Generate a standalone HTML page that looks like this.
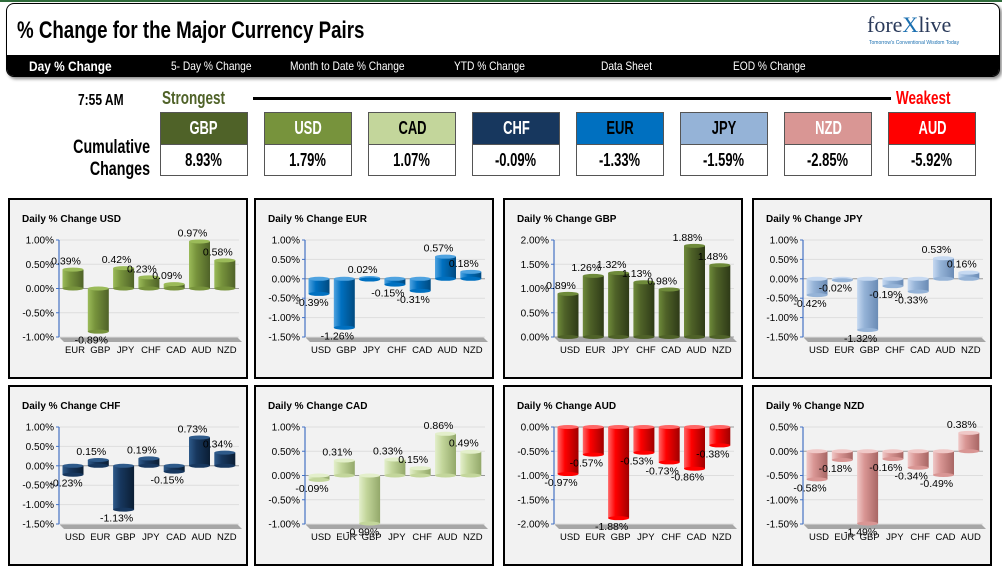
<!DOCTYPE html>
<html><head><meta charset="utf-8"><style>
body{margin:0;width:1002px;height:576px;background:#fff;position:relative;overflow:hidden;font-family:"Liberation Sans",sans-serif}
.abs{position:absolute}
#hdr{left:6px;top:3px;width:992px;height:72px;border:1px solid #000;border-radius:8px;overflow:hidden;background:#fff;box-shadow:2px 2px 3px #888}
#title{left:10px;top:13px;font-size:24px;font-weight:bold;transform:scaleX(.78);transform-origin:left;white-space:nowrap}
#nav{left:0;top:51px;width:992px;height:22px;background:#000;color:#fff;font-size:12px}
#nav span{position:absolute;top:4px;transform:scaleX(.85);transform-origin:left;white-space:nowrap}
.box{position:absolute;width:86px;border:1px solid #555}
.box .h{height:31px;line-height:31px;text-align:center;font-weight:bold;font-size:18px;border-bottom:1px solid #555}
.box .v{height:30px;line-height:30px;text-align:center;font-weight:bold;font-size:18px;background:#fff}
.box span{display:inline-block;transform:scaleX(.72)}
.panel{position:absolute;width:236px;height:177px;border:2px solid #000;background:#f2f2f2}
.cond{transform:scaleX(.75);transform-origin:left;white-space:nowrap}
</style></head><body>
<div class="abs" style="left:0;top:0;width:1002px;height:2px;background:#2e6b3a"></div>
<div id="hdr" class="abs">
  <div id="title" class="abs">% Change for the Major Currency Pairs</div>
  <div class="abs" style="left:860px;top:8px;font-family:'Liberation Serif',serif;font-size:22px;color:#2a3a5a">fore<span style="color:#1a6fb0">X</span>live</div>
  <div class="abs" style="left:862px;top:36px;font-size:5px;color:#1a6fb0">Tomorrow's Conventional Wisdom Today</div>
  <div id="nav" class="abs">
    <span style="left:22px;font-size:14px;font-weight:bold;top:3px">Day % Change</span>
    <span style="left:164px">5- Day % Change</span>
    <span style="left:283px">Month to Date % Change</span>
    <span style="left:447px">YTD % Change</span>
    <span style="left:594px">Data Sheet</span>
    <span style="left:726px">EOD % Change</span>
  </div>
</div>
<div class="abs cond" style="left:78px;top:92px;font-size:16px;font-weight:bold">7:55 AM</div>
<div class="abs cond" style="left:162px;top:88px;font-size:18px;font-weight:bold;color:#4F6228">Strongest</div>
<div class="abs" style="left:253px;top:97px;width:638px;height:3px;background:#000"></div>
<div class="abs cond" style="left:896px;top:88px;font-size:18px;font-weight:bold;color:#f00">Weakest</div>
<div class="abs" style="left:40px;top:137px;width:110px;text-align:right;font-size:19px;font-weight:bold;line-height:22px;transform:scaleX(.75);transform-origin:right">Cumulative<br>Changes</div>
<div id="boxes"></div>
<div id="panels"></div>
<script>
const rankCur=["GBP","USD","CAD","CHF","EUR","JPY","NZD","AUD"];
const rankVal=[8.93,1.79,1.07,-0.09,-1.33,-1.59,-2.85,-5.92];
const rankBg=["#4F6228","#77933C","#C3D69B","#17375E","#0070C0","#95B3D7","#D99694","#FF0000"];
const rankFg=["#fff","#fff","#000","#fff","#000","#000","#fff","#fff"];
const bx=document.getElementById('boxes');
rankCur.forEach((c,i)=>{
  const d=document.createElement('div');d.className='box';
  d.style.left=(160+i*104)+'px';d.style.top='112px';
  
  
  d.innerHTML='<div class="h" style="background:'+rankBg[i]+';color:'+rankFg[i]+'"><span>'+c+'</span></div><div class="v"><span>'+rankVal[i].toFixed(2)+'%</span></div>';
  bx.appendChild(d);
});

const chartNames=["USD","EUR","GBP","JPY","CHF","CAD","AUD","NZD"];
const chartCats=[
["EUR","GBP","JPY","CHF","CAD","AUD","NZD"],
["USD","GBP","JPY","CHF","CAD","AUD","NZD"],
["USD","EUR","JPY","CHF","CAD","AUD","NZD"],
["USD","EUR","GBP","CHF","CAD","AUD","NZD"],
["USD","EUR","GBP","JPY","CAD","AUD","NZD"],
["USD","EUR","GBP","JPY","CHF","AUD","NZD"],
["USD","EUR","GBP","JPY","CHF","CAD","NZD"],
["USD","EUR","GBP","JPY","CHF","CAD","AUD"]];
const chartVals=[
[0.39,-0.89,0.42,0.23,0.09,0.97,0.58],
[-0.39,-1.26,0.02,-0.15,-0.31,0.57,0.18],
[0.89,1.26,1.32,1.13,0.98,1.88,1.48],
[-0.42,-0.02,-1.32,-0.19,-0.33,0.53,0.16],
[-0.23,0.15,-1.13,0.19,-0.15,0.73,0.34],
[-0.09,0.31,-0.99,0.33,0.15,0.86,0.49],
[-0.97,-0.57,-1.88,-0.53,-0.73,-0.86,-0.38],
[-0.58,-0.18,-1.49,-0.16,-0.34,-0.49,0.38]];
const axisMin=[-1,-1.5,0,-1.5,-1.5,-1,-2,-1.5];
const axisMax=[1,1,2,1,1,1,0,0.5];
const barColors=[["#9BBB59","#77933C","#4F6228"],["#4FA3E0","#0070C0","#004A80"],["#6E8A3A","#4F6228","#2E3A17"],["#C6D9F1","#95B3D7","#6A8BB5"],["#2E5A8A","#17375E","#0B1E34"],["#E3EFCB","#C3D69B","#93A86A"],["#FF6666","#FF0000","#A00000"],["#F0C8C7","#D99694","#A86664"]];
const panelX=[8,254,503,752];
const panelY=[198,385];
const NS='http://www.w3.org/2000/svg';
const host=document.getElementById('panels');
chartNames.forEach((name,k)=>{
  const p=document.createElement('div');p.className='panel';
  p.style.left=panelX[k%4]+'px';p.style.top=panelY[Math.floor(k/4)]+'px';
  
  
  host.appendChild(p);
  const svg=document.createElementNS(NS,'svg');
  svg.setAttribute('width','236');svg.setAttribute('height','177');
  svg.style.position='absolute';svg.style.left='0';svg.style.top='0';
  svg.setAttribute('font-family','Liberation Sans, sans-serif');
  p.appendChild(svg);
  const mn=axisMin[k],mx=axisMax[k];
  const top=40,bot=137,x0=49,step=25.3;
  const y=v=>top+(mx-v)/(mx-mn)*(bot-top);
  const cx=i=>x0+14+i*step;
  const col=barColors[k];
  const gid='g'+k;
  let s='<defs><linearGradient id="'+gid+'" x1="0" x2="1"><stop offset="0" stop-color="'+col[0]+'"/><stop offset="0.35" stop-color="'+col[1]+'"/><stop offset="1" stop-color="'+col[2]+'"/></linearGradient></defs>';
  s+='<text x="12" y="22" font-size="10" font-weight="bold">Daily % Change '+name+'</text>';
  s+='<polygon points="'+(x0)+','+bot+' '+(x0+178)+','+bot+' '+(x0+183)+','+(bot+5)+' '+(x0+5)+','+(bot+5)+'" fill="#a6a6a6"/>';
  for(let t=mn;t<=mx+1e-9;t+=0.5){
    const yy=y(t);
    s+='<line x1="'+x0+'" x2="'+(x0+180)+'" y1="'+yy+'" y2="'+yy+'" stroke="'+(Math.abs(t)<1e-9?'#999':'#ddd')+'" stroke-width="1"/>';
    s+='<line x1="'+(x0-3)+'" x2="'+x0+'" y1="'+yy+'" y2="'+yy+'" stroke="#4472C4"/>';
    s+='<text x="'+(x0-5)+'" y="'+(yy+3.5)+'" font-size="10" text-anchor="end">'+t.toFixed(2)+'%</text>';
  }
  s+='<line x1="'+x0+'" x2="'+x0+'" y1="'+top+'" y2="'+bot+'" stroke="#4472C4" stroke-width="1.2"/>';
  const z=y(Math.max(mn,Math.min(mx,0)));
  chartVals[k].forEach((v,i)=>{
    const yv=y(v),x=cx(i)-10.5,w=21,t=Math.min(z,yv),h=Math.max(1.5,Math.abs(yv-z));
    s+='<rect x="'+x+'" y="'+t+'" width="'+w+'" height="'+h+'" fill="url(#'+gid+')"/>';
    s+='<ellipse cx="'+cx(i)+'" cy="'+t+'" rx="10.5" ry="2" fill="'+col[0]+'"/>';
    s+='<ellipse cx="'+cx(i)+'" cy="'+(t+h)+'" rx="10.5" ry="2" fill="'+col[1]+'"/>';
    const ly=v>=0?yv-5:yv+12;
    s+='<text x="'+(cx(i)-7)+'" y="'+ly+'" font-size="10.5" text-anchor="middle">'+v.toFixed(2)+'%</text>';
    s+='<text x="'+(cx(i)+2)+'" y="'+(bot+16)+'" font-size="9.5" text-anchor="middle">'+chartCats[k][i]+'</text>';
  });
  svg.innerHTML=s;
});
</script>
</body></html>
